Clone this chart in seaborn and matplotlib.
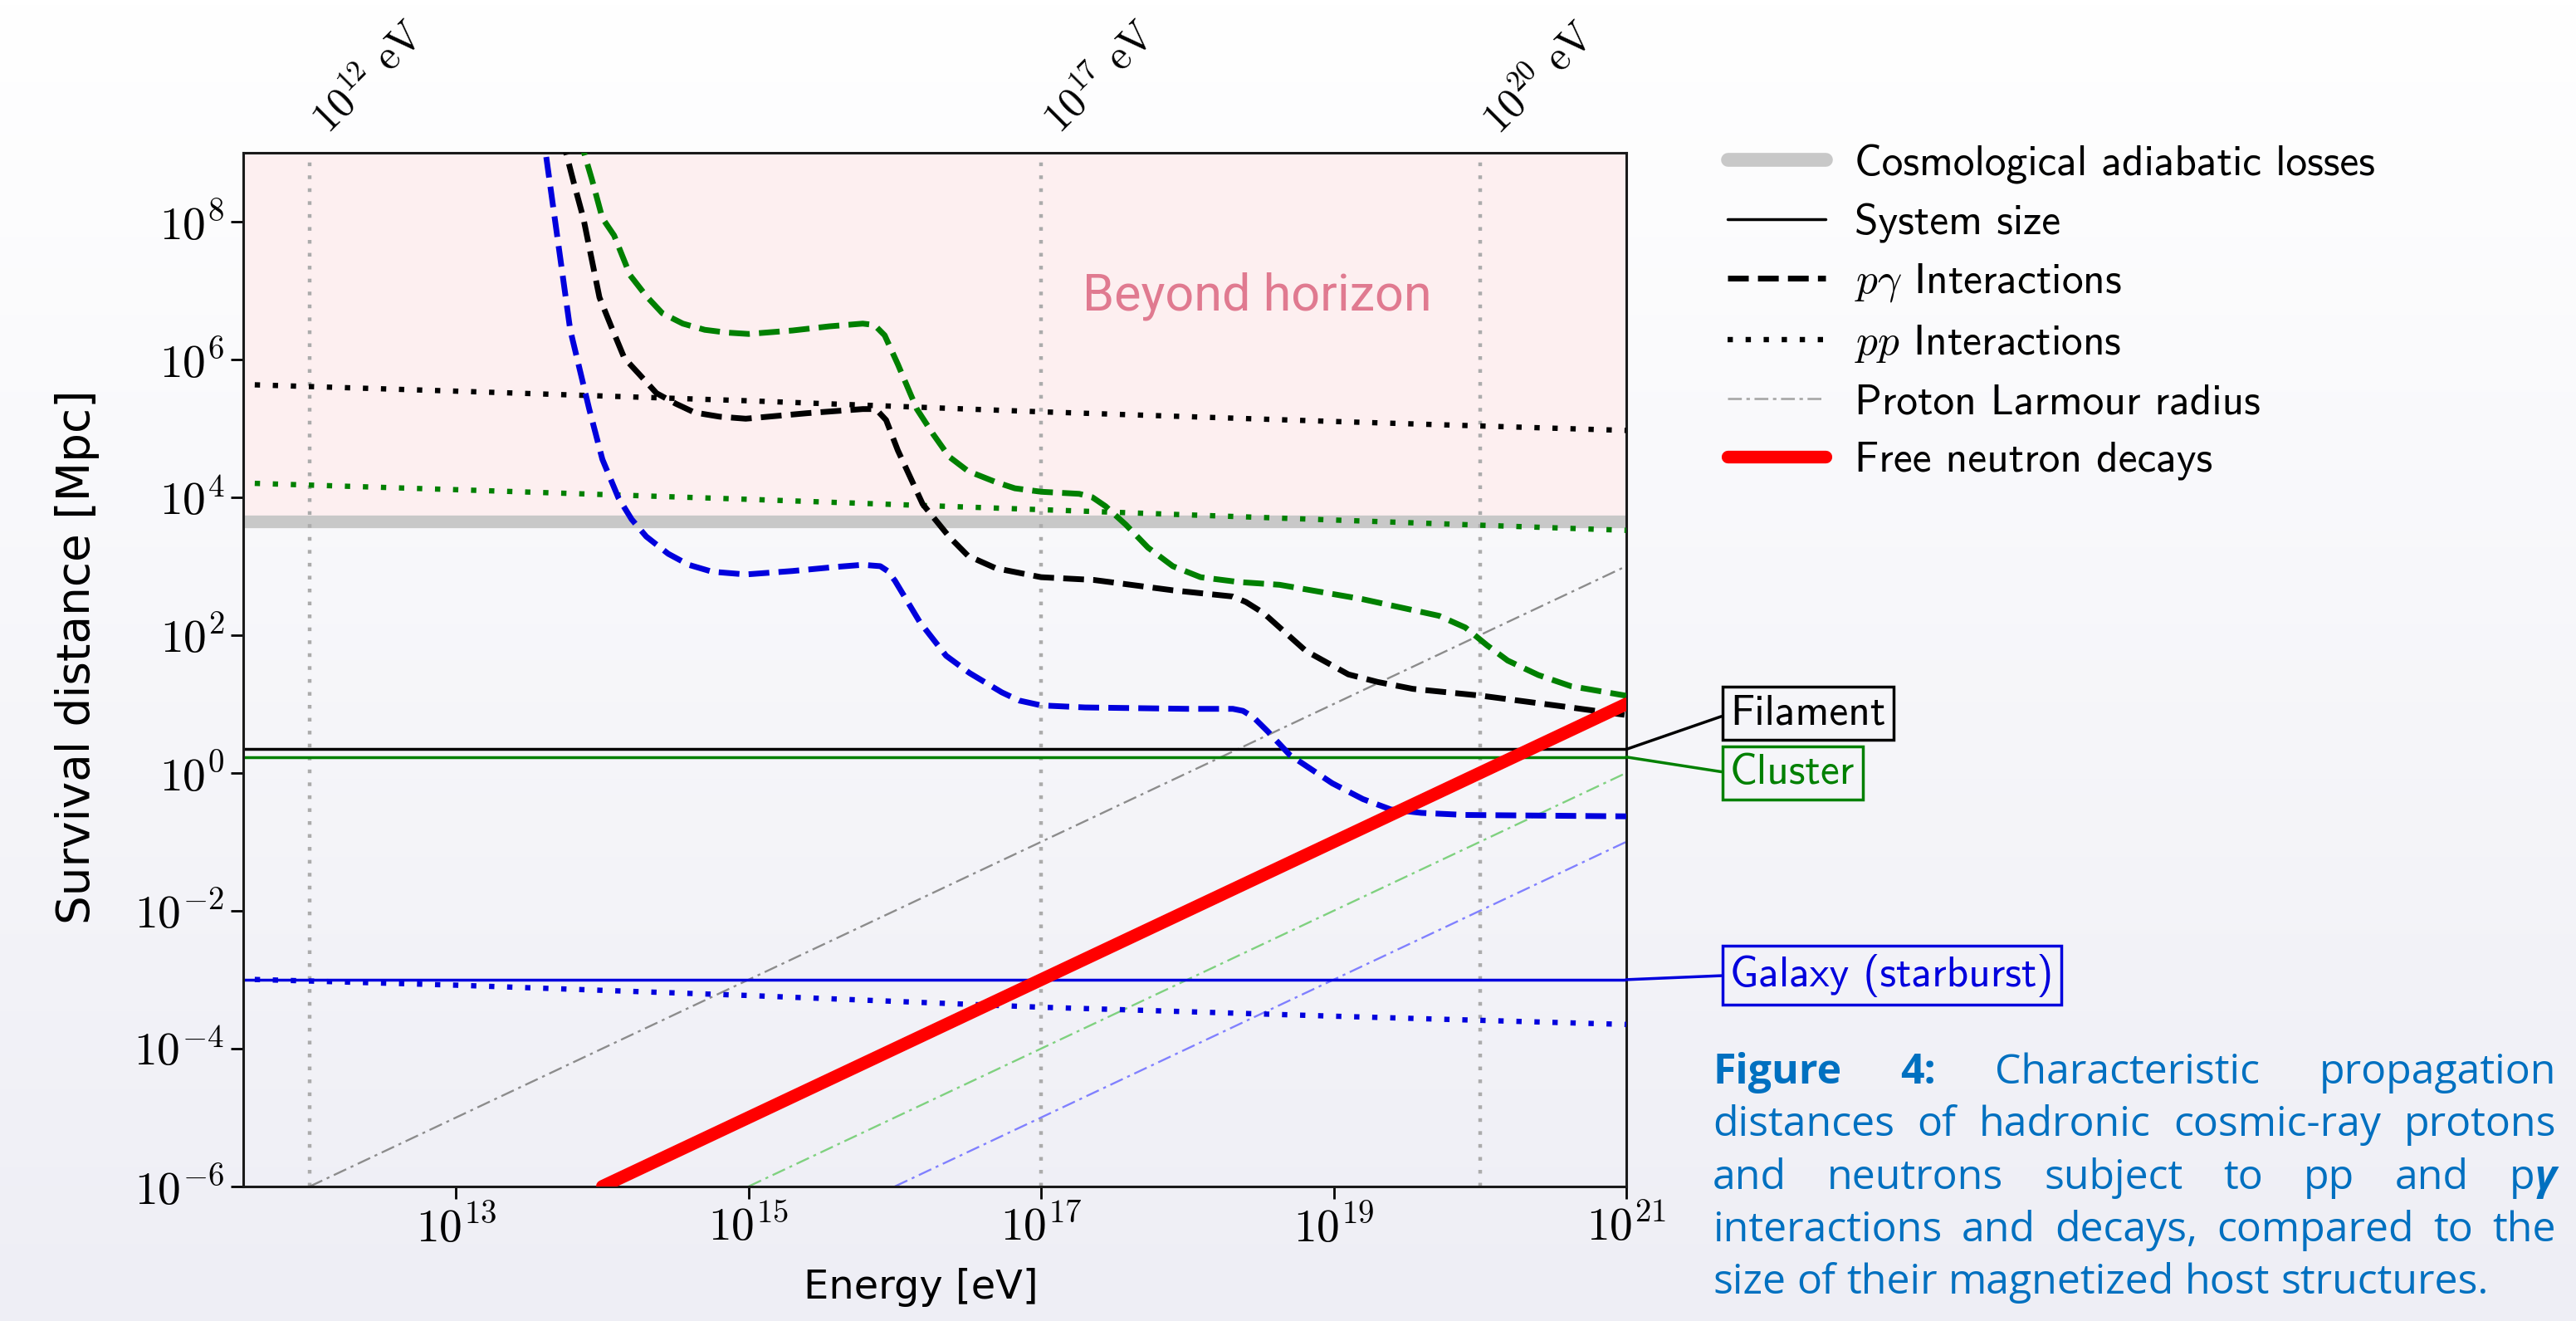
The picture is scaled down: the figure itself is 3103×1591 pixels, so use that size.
import numpy as np
import matplotlib
matplotlib.use('Agg')
import matplotlib.pyplot as plt
from matplotlib.lines import Line2D
from matplotlib.colors import LinearSegmentedColormap
from matplotlib.ticker import FixedLocator, NullLocator, FuncFormatter
import seaborn as sns

# values: log10(E / eV) and log10(survival distance / Mpc)

# p-gamma interactions (dashed)
pg_gal_loge = [13.56, 13.65, 13.78, 13.91, 14.00, 14.11, 14.20, 14.30, 14.45, 14.59, 14.75, 14.98,
               15.30, 15.60, 15.78, 15.90, 15.95, 16.00, 16.17, 16.35, 16.51, 16.73, 16.85, 17.00,
               17.30, 18.00, 18.31, 18.38, 18.45, 18.55, 18.70, 18.99, 19.20, 19.39, 19.60, 19.90, 21.00]
pg_gal_logd = [9.80, 8.42, 6.43, 5.28, 4.55, 3.99, 3.68, 3.43, 3.18, 3.02, 2.92, 2.88,
               2.93, 2.99, 3.02, 3.00, 2.93, 2.79, 2.19, 1.70, 1.45, 1.17, 1.05, 0.98,
               0.95, 0.93, 0.93, 0.90, 0.81, 0.60, 0.26, -0.15, -0.38, -0.53, -0.58, -0.61, -0.63]

pg_fil_loge = [13.72, 13.80, 13.87, 13.98, 14.06, 14.15, 14.25, 14.37, 14.50, 14.63, 14.80, 14.98,
               15.40, 15.78, 15.87, 15.94, 16.02, 16.19, 16.37, 16.50, 16.69, 17.00, 17.36, 17.90,
               18.31, 18.40, 18.52, 18.81, 19.10, 19.30, 19.54, 20.01, 20.62, 21.00]
pg_fil_logd = [9.26, 8.60, 8.05, 6.90, 6.48, 6.02, 5.79, 5.51, 5.36, 5.23, 5.17, 5.14,
               5.22, 5.28, 5.28, 5.12, 4.68, 3.90, 3.43, 3.15, 2.97, 2.84, 2.80, 2.65,
               2.56, 2.48, 2.32, 1.77, 1.43, 1.32, 1.22, 1.12, 0.95, 0.84]

pg_clu_loge = [13.84, 13.93, 14.00, 14.08, 14.19, 14.30, 14.41, 14.55, 14.70, 14.85, 15.00, 15.30,
               15.55, 15.78, 15.86, 15.93, 16.02, 16.15, 16.26, 16.37, 16.50, 16.69, 16.82, 17.00,
               17.26, 17.35, 17.44, 17.58, 17.73, 17.90, 18.09, 18.35, 18.63, 19.20, 19.72, 19.90,
               20.05, 20.19, 20.40, 20.62, 21.00]
pg_clu_logd = [9.25, 8.60, 8.05, 7.80, 7.22, 6.92, 6.67, 6.52, 6.43, 6.39, 6.37, 6.42,
               6.48, 6.52, 6.50, 6.35, 5.93, 5.28, 4.92, 4.59, 4.38, 4.22, 4.13, 4.08,
               4.05, 4.00, 3.87, 3.60, 3.27, 3.00, 2.84, 2.77, 2.73, 2.52, 2.28, 2.11,
               1.85, 1.63, 1.42, 1.26, 1.12]

# pp interactions (dotted)
pp_loge = [11.5, 13, 15, 17, 19, 21]
pp_fil_logd = [5.64, 5.54, 5.40, 5.24, 5.10, 4.97]
pp_clu_logd = [4.21, 4.11, 3.97, 3.82, 3.67, 3.52]
pp_gal_logd = [-2.99, -3.08, -3.23, -3.40, -3.53, -3.65]

# proton Larmour radius (dash-dot) and free neutron decay length, end points
larmor_fil_loge, larmor_fil_logd = [12, 21], [-6, 3]
larmor_clu_loge, larmor_clu_logd = [15, 21], [-6, 0]
larmor_gal_loge, larmor_gal_logd = [16, 21], [-6, -1]
neutron_loge, neutron_logd = [14, 21], [-6, 1]

# host structures, sizes in Mpc
struct_names = ['Filament', 'Cluster', 'Galaxy (starburst)']
struct_sizes = [2.2, 1.7, 1e-3]
struct_colors = ['black', 'green', '#0000dd']

horizon = 4.5e3  # Mpc, cosmological adiabatic losses
marker_energies = [1e12, 1e17, 1e20]
marker_labels = [r'$10^{12}\ \mathrm{eV}$', r'$10^{17}\ \mathrm{eV}$', r'$10^{20}\ \mathrm{eV}$']

caption_lines = ['Figure 4: Characteristic propagation',
                 'distances of hadronic cosmic-ray protons',
                 'and neutrons subject to pp and p\u03b3',
                 'interactions and decays, compared to the',
                 'size of their magnetized host structures.']

W, H = 3103, 1591
sns.set_theme(style='white')
plt.rcParams['font.family'] = ['DejaVu Sans']
plt.rcParams.update({'mathtext.fontset': 'cm', 'text.color': 'black', 'axes.labelcolor': 'black',
                     'xtick.color': 'black', 'ytick.color': 'black'})

fig = plt.figure(figsize=(W / 100, H / 100), dpi=100)
fig.patch.set_facecolor('white')

# soft vertical gradient behind everything
bg = fig.add_axes([0, 0, 1, 1], zorder=-10)
bg.imshow(np.linspace(0, 1, 256)[:, None], aspect='auto', extent=[0, 1, 0, 1],
          cmap=LinearSegmentedColormap.from_list('bg', ['#ffffff', '#eeeef5']))
bg.axis('off')

ax = fig.add_axes([0.0944, 0.1019, 0.5369, 0.7825])
ax.set_xscale('log')
ax.set_yscale('log')
ax.patch.set_alpha(0)

ax.axhspan(horizon, 1e9, color='#fdeff0', lw=0, zorder=0)
ax.axhline(horizon, color='#c8c8c8', lw=11, zorder=1)
for e in marker_energies:
    ax.axvline(e, color='#ababab', lw=3.2, dashes=(1, 2.5), zorder=1)


def draw(loge, logd, color, lw, dashes=None, z=3):
    sns.lineplot(x=10 ** np.array(loge, dtype=float), y=10 ** np.array(logd, dtype=float), ax=ax,
                 color=color, lw=lw, estimator=None, sort=False, zorder=z)
    line = ax.lines[-1]
    if dashes is not None:
        line.set_dashes(dashes)


# Larmour radii
draw(larmor_fil_loge, larmor_fil_logd, '#8c8c8c', 1.7, (7, 2.5, 1.5, 2.5), 2)
draw(larmor_clu_loge, larmor_clu_logd, '#7fd17f', 1.7, (7, 2.5, 1.5, 2.5), 2)
draw(larmor_gal_loge, larmor_gal_logd, '#8080ff', 1.7, (7, 2.5, 1.5, 2.5), 2)

# system sizes
for s, c in zip(struct_sizes, struct_colors):
    ax.axhline(s, color=c, lw=2.5, zorder=2)

# pp
draw(pp_loge, pp_fil_logd, 'black', 4.6, (1, 2.4))
draw(pp_loge, pp_clu_logd, 'green', 4.6, (1, 2.4))
draw(pp_loge, pp_gal_logd, '#0000dd', 4.6, (1, 2.4))

# p gamma
draw(pg_fil_loge, pg_fil_logd, 'black', 5, (3.6, 1.6))
draw(pg_clu_loge, pg_clu_logd, 'green', 5, (3.6, 1.6))
draw(pg_gal_loge, pg_gal_logd, '#0000dd', 5, (3.6, 1.6))

# neutron decays
draw(neutron_loge, neutron_logd, 'red', 11, None, 5)

ax.set_xlim(3.5e11, 1e21)
ax.set_ylim(1e-6, 1e9)
ax.xaxis.set_major_locator(FixedLocator([1e13, 1e15, 1e17, 1e19, 1e21]))
ax.yaxis.set_major_locator(FixedLocator([1e-6, 1e-4, 1e-2, 1, 1e2, 1e4, 1e6, 1e8]))
ax.xaxis.set_minor_locator(NullLocator())
ax.yaxis.set_minor_locator(NullLocator())
fmt = FuncFormatter(lambda v, p: r'$10^{%d}$' % round(np.log10(v)))
ax.xaxis.set_major_formatter(fmt)
ax.yaxis.set_major_formatter(fmt)
ax.tick_params(axis='both', which='major', bottom=True, left=True, direction='out',
               length=10.5, width=2, labelsize=40, pad=6, color='black', labelcolor='black')
for sp in ax.spines.values():
    sp.set_color('#1a1a1a')
    sp.set_linewidth(2.2)

ax.set_xlabel('Energy [eV]', fontsize=34.5)
ax.xaxis.set_label_coords(0.49, -0.0786)
ax.set_ylabel('Survival distance [Mpc]', fontsize=39.5)
ax.yaxis.set_label_coords(-0.104, 0.512)

ax.text(3.0e18, 5.25e6, 'Beyond horizon', fontsize=44, family='Roboto', color='#e07a90',
        ha='center', va='baseline', zorder=4)

for e, lab in zip(marker_energies, marker_labels):
    ax.annotate(lab, xy=(e, 1), xycoords=('data', 'axes fraction'), xytext=(16, 15),
                textcoords='offset points', rotation=45, rotation_mode='anchor', ha='left',
                va='baseline', fontsize=36, annotation_clip=False)

for name, s, c, ytxt in zip(struct_names, struct_sizes, struct_colors, [0.4576, 0.3998, 0.2042]):
    ax.annotate(name, xy=(1e21, s), xytext=(1.0751, ytxt), textcoords='axes fraction',
                ha='left', va='center', fontsize=37, family='cmss10', color=c,
                bbox=dict(boxstyle='square,pad=0.18', fc='none', ec=c, lw=2.5),
                arrowprops=dict(arrowstyle='-', color=c, lw=2.5, shrinkA=0, shrinkB=0, relpos=(0, 0.5)),
                annotation_clip=False)

handles = [Line2D([], [], color='#c8c8c8', lw=12),
           Line2D([], [], color='black', lw=2.5),
           Line2D([], [], color='black', lw=5, dashes=(3.6, 1.6)),
           Line2D([], [], color='black', lw=4.6, dashes=(1, 2.4)),
           Line2D([], [], color='#aaaaaa', lw=2, dashes=(6, 2, 1.5, 2)),
           Line2D([], [], color='red', lw=11)]
labels = ['Cosmological adiabatic losses', 'System size', r'$p\gamma$ Interactions',
          r'$pp$ Interactions', 'Proton Larmour radius', 'Free neutron decays']
ax.legend(handles, labels, loc='upper left', bbox_to_anchor=(1.0731, 1.0088), frameon=False,
          borderpad=0, borderaxespad=0, prop={'family': 'cmss10', 'size': 37},
          handlelength=2.3, handletextpad=0.68, labelspacing=0.45)

# justified caption
cap_left, cap_right = 2063, 3079
cap_base = [1305, 1368.3, 1431.7, 1495, 1558.3]
cap_kw = dict(fontsize=36, family=['Open Sans', 'DejaVu Sans'], color='#0070c0', va='baseline', ha='left')
renderer = fig.canvas.get_renderer()


def word_segments(w):
    if w in ('Figure', '4:'):
        return [(w, 'bold', 'normal')]
    if w == 'p\u03b3':
        return [('p', 'normal', 'normal'), ('\u03b3', 'bold', 'italic')]
    return [(w, 'normal', 'normal')]


sp1 = fig.text(0, 0, 'x x', **cap_kw)
sp2 = fig.text(0, 0, 'xx', **cap_kw)
space_w = sp1.get_window_extent(renderer).width - sp2.get_window_extent(renderer).width
sp1.remove()
sp2.remove()

for i, line in enumerate(caption_lines):
    y = 1 - cap_base[i] / H
    words = []
    for w in line.split(' '):
        segs = []
        for txt, wt, st in word_segments(w):
            t = fig.text(0, y, txt, fontweight=wt, fontstyle=st, **cap_kw)
            segs.append((t, t.get_window_extent(renderer).width))
        words.append(segs)
    widths = [sum(sw for _, sw in segs) for segs in words]
    if i < len(caption_lines) - 1:
        gap = (cap_right - cap_left - sum(widths)) / (len(words) - 1)
    else:
        gap = space_w
    x = cap_left
    for segs, ww in zip(words, widths):
        xx = x
        for t, sw in segs:
            t.set_x(xx / W)
            xx += sw
        x += ww + gap

fig.savefig('out.png', dpi=100)
